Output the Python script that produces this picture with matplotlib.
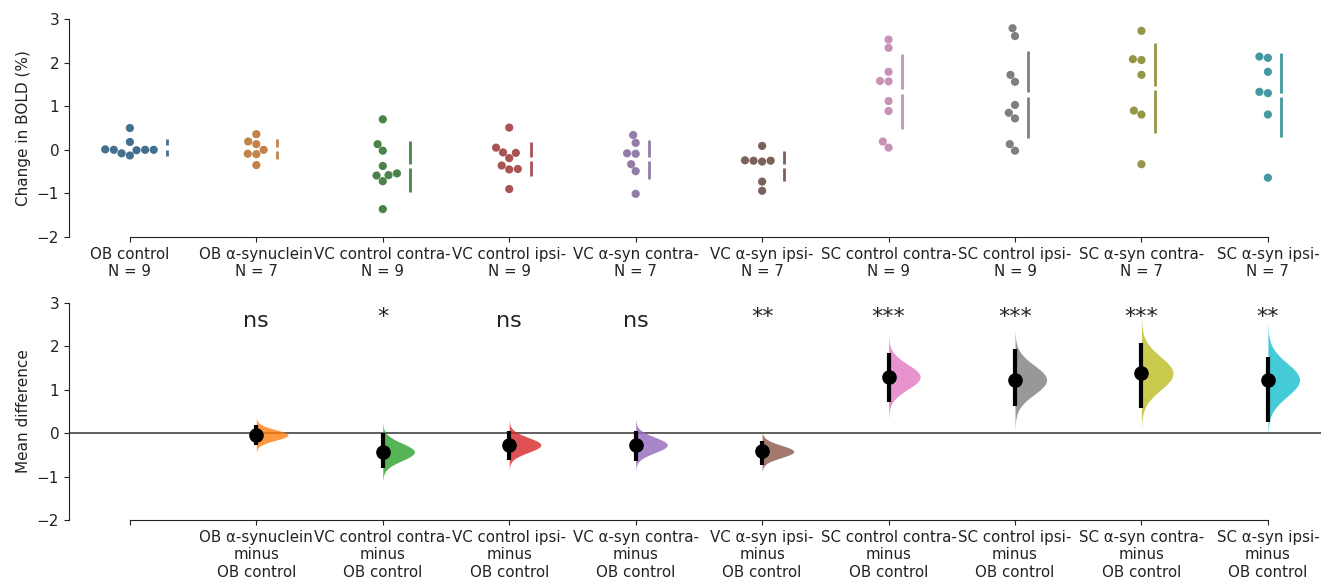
import numpy as np
import pandas as pd
import seaborn as sns
import matplotlib
matplotlib.use('Agg')
from matplotlib import pyplot as plt

plt.rcParams['font.family'] = ['DejaVu Sans']

# groups (order on the x axis)
groups = ['OB control', 'OB α-synuclein', 'VC control contra-', 'VC control ipsi-',
          'VC α-syn contra-', 'VC α-syn ipsi-', 'SC control contra-', 'SC control ipsi-',
          'SC α-syn contra-', 'SC α-syn ipsi-']

# raw values, change in BOLD (%)
ob_control = [0.50, 0.18, 0.01, 0.0, -0.08, -0.13, 0.0, -0.01, 0.0]
ob_asyn = [0.36, 0.19, 0.13, 0.0, -0.09, -0.10, -0.35]
vc_ctrl_contra = [0.70, 0.13, -0.02, -0.37, -0.59, -0.58, -0.54, -0.72, -1.36]
vc_ctrl_ipsi = [0.51, 0.05, -0.06, -0.07, -0.19, -0.36, -0.44, -0.45, -0.90]
vc_asyn_contra = [0.34, 0.16, -0.08, -0.09, -0.33, -0.49, -1.01]
vc_asyn_ipsi = [0.09, -0.25, -0.27, -0.25, -0.24, -0.73, -0.94]
sc_ctrl_contra = [2.53, 2.34, 1.79, 1.58, 1.57, 1.12, 0.89, 0.19, 0.05]
sc_ctrl_ipsi = [2.79, 2.61, 1.72, 1.56, 1.03, 0.85, 0.72, 0.13, -0.02]
sc_asyn_contra = [2.73, 2.08, 2.06, 1.72, 0.90, 0.81, -0.33]
sc_asyn_ipsi = [2.14, 2.11, 1.79, 1.33, 1.30, 0.81, -0.64]

raw = [ob_control, ob_asyn, vc_ctrl_contra, vc_ctrl_ipsi, vc_asyn_contra,
       vc_asyn_ipsi, sc_ctrl_contra, sc_ctrl_ipsi, sc_asyn_contra, sc_asyn_ipsi]

# mean difference vs OB control, with 95% CI (groups 2..10)
mean_diff = [-0.04, -0.43, -0.27, -0.27, -0.42, 1.30, 1.23, 1.38, 1.23]
ci_low = [-0.28, -0.79, -0.62, -0.64, -0.74, 0.71, 0.63, 0.57, 0.25]
ci_high = [0.20, 0.00, 0.05, 0.06, -0.18, 1.84, 1.95, 2.07, 1.76]
signif = ['ns', '*', 'ns', 'ns', '**', '***', '***', '***', '**']

tab = sns.color_palette('tab10', 10)
swarm_cols = [sns.desaturate(c, 0.5) for c in tab]
txt = '#222222'

df = pd.DataFrame({'group': [g for g, v in zip(groups, raw) for _ in v],
                   'value': [x for v in raw for x in v]})

fig = plt.figure(figsize=(13.21, 5.78), dpi=100)
ax1 = fig.add_axes([0.0522, 0.590, 0.9478, 0.377])
ax2 = fig.add_axes([0.0522, 0.1003, 0.9478, 0.3755])

# ---- top: swarm of raw data ----
sns.swarmplot(data=df, x='group', y='value', hue='group', order=groups, hue_order=groups,
              palette=dict(zip(groups, swarm_cols)), size=5.9, legend=False, ax=ax1,
              linewidth=0)
for ax in (ax1, ax2):
    ax.set_xlim(-0.482, 9.42)
    ax.set_ylim(-2, 3)
    ax.set_yticks([-2, -1, 0, 1, 2, 3])
    ax.set_xticks(range(10))
    ax.spines['top'].set_visible(False)
    ax.spines['right'].set_visible(False)
    ax.spines['left'].set_bounds(-2, 3)
    ax.spines['bottom'].set_bounds(0, 9)
    for s in ('left', 'bottom'):
        ax.spines[s].set_color(txt)
    ax.tick_params(axis='y', labelsize=11, colors=txt)
    ax.tick_params(axis='x', labelsize=10.8, colors=txt)

ax1.set_xticklabels([f'{g}\nN = {len(v)}' for g, v in zip(groups, raw)])
ax1.set_xlabel('')
ax1.set_ylabel('Change in BOLD (%)', fontsize=11, color=txt)

# mean ± sd as a gapped line to the right of each swarm
fig.canvas.draw()
for i, coll in enumerate(ax1.collections):
    xy = coll.get_offsets()
    if len(xy) == 0:
        continue
    k = int(round(np.median(xy[:, 0])))
    v = np.array(raw[k])
    m, sd = v.mean(), v.std(ddof=1)
    xl = xy[:, 0].max() + 0.105
    ax1.vlines(xl, m + 0.05, m + sd, color=swarm_cols[k], lw=2)
    ax1.vlines(xl, m - sd, m - 0.05, color=swarm_cols[k], lw=2)

# ---- bottom: mean differences with half violins ----
ax2.axhline(0, color='#444444', lw=1.2, zorder=1)
for j in range(len(mean_diff)):
    k = j + 1
    m = mean_diff[j]
    s = (ci_high[j] - ci_low[j]) / 3.92
    yy = np.linspace(m - 3.3 * s, m + 3.3 * s, 300)
    dens = np.exp(-0.5 * ((yy - m) / s) ** 2)
    ax2.fill_betweenx(yy, k, k + 0.25 * dens, color=tab[k], alpha=0.8, lw=0, zorder=2)
    ax2.vlines(k, ci_low[j], ci_high[j], color='black', lw=3, zorder=3)
    ax2.plot(k, m, 'o', color='black', ms=9.5, zorder=4)
    ty = 2.45 if signif[j] == 'ns' else 2.55
    ax2.text(k, ty, signif[j], ha='center', va='baseline', fontsize=16, color=txt)

ax2.set_xticklabels([''] + [f'{g}\nminus\nOB control' for g in groups[1:]])
ax2.set_ylabel('Mean difference', fontsize=11, color=txt)

fig.savefig('out.png', dpi=100)
